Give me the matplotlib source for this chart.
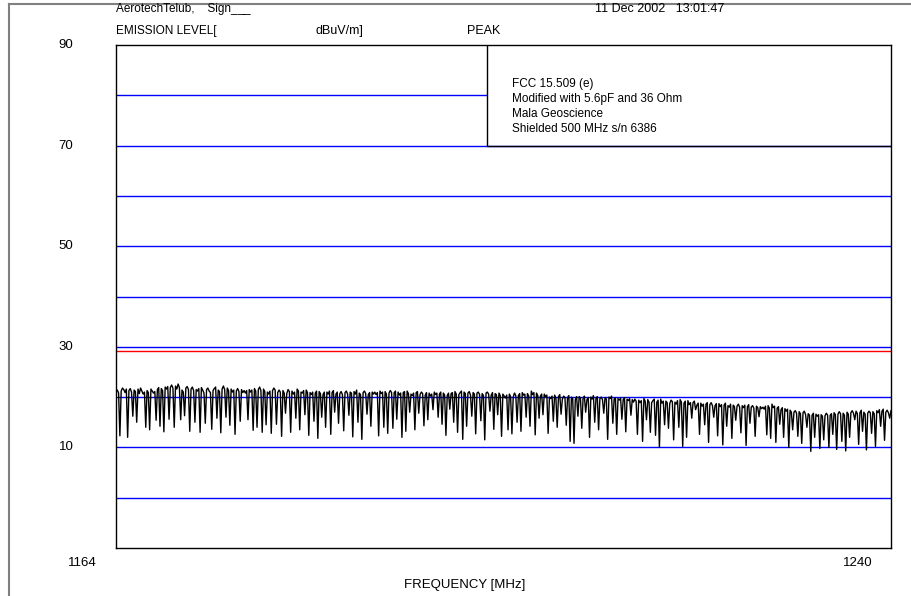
import numpy as np
import matplotlib
matplotlib.use("Agg")
import matplotlib.pyplot as plt
from matplotlib.lines import Line2D

plt.rcParams['font.family'] = ['Liberation Sans', 'DejaVu Sans']

# sweep settings
f_start, f_stop = 1164, 1240
y_min, y_max = -10, 90
grid_levels = [0, 10, 20, 30, 40, 50, 60, 70]
limit_level = 29.1
box_left_freq = 1200.4
ytick_labels = [10, 30, 50, 70, 90]
xtick_labels = [1164, 1240]

notes = ["FCC 15.509 (e)",
         "Modified with 5.6pF and 36 Ohm",
         "Mala Geoscience",
         "Shielded 500 MHz s/n 6386"]

# peak trace, dBuV/m, one value per sweep point (six blocks across the span)
peak_a = [21.0, 21.4, 20.8, 12.3, 21.2, 21.8, 21.5, 20.9, 21.6, 12.0, 21.3, 21.7, 21.0, 16.2,
          21.4, 21.1, 15.0, 21.6, 20.7, 21.8, 21.2, 20.6, 21.0, 14.0, 21.3, 20.9, 13.5, 21.6,
          21.2, 20.8, 21.1, 15.4, 21.5, 21.9, 14.2, 21.7, 21.3, 13.1, 22.0, 21.6, 22.1, 15.6,
          21.9, 22.4, 21.8, 14.0, 22.2, 21.6, 22.6, 21.9, 15.5, 21.4, 21.0, 16.3, 21.8, 22.1,
          21.5, 13.2, 21.6, 22.0, 21.3, 15.0, 21.5, 21.2, 21.7, 13.0, 21.9, 21.4, 20.8, 14.8,
          21.5, 21.8, 21.2, 20.9, 13.6, 21.3, 21.7, 22.0, 15.8, 21.4, 21.1, 12.9, 21.6, 22.2,
          21.5, 16.0, 21.8, 21.3, 14.4, 21.6, 21.0, 21.4, 12.6, 21.2, 21.7, 21.1, 15.2, 21.5,
          20.9, 21.3]
peak_b = [20.8, 21.3, 15.5, 21.5, 21.0, 21.4, 13.4, 21.7, 21.2, 14.0, 21.5, 22.0, 21.3, 13.0,
          21.6, 21.1, 14.5, 21.0, 20.6, 21.2, 12.8, 21.3, 21.8, 21.4, 14.6, 20.9, 21.4, 21.0,
          12.2, 21.3, 20.8, 16.8, 20.7, 21.5, 21.1, 13.0, 21.2, 20.6, 21.0, 15.8, 21.6, 21.2,
          13.5, 21.0, 20.8, 21.3, 16.5, 21.4, 20.9, 12.4, 20.9, 20.5, 21.0, 15.2, 20.8, 21.2,
          11.8, 21.1, 20.7, 16.0, 20.5, 21.0, 14.0, 21.0, 20.6, 21.2, 12.6, 20.9, 21.3, 17.0,
          20.6, 21.0, 14.8, 20.7, 21.1, 20.5, 13.3, 20.9, 21.2, 20.6, 16.4, 21.0, 20.8, 12.1,
          21.1, 20.6, 21.4, 15.0, 20.8, 20.5, 11.6, 20.9, 21.2, 20.7, 16.6, 20.5, 20.9, 14.2,
          21.0, 20.6]
peak_c = [21.0, 20.5, 20.9, 12.3, 21.2, 20.7, 21.0, 14.0, 21.1, 20.6, 12.8, 20.8, 21.3, 20.9,
          13.8, 20.9, 21.2, 15.6, 21.0, 20.4, 20.8, 12.0, 20.9, 21.1, 13.2, 21.2, 20.7, 17.0,
          20.6, 20.3, 20.8, 13.5, 20.9, 21.1, 16.8, 20.5, 21.0, 20.7, 14.3, 20.4, 20.9, 15.5,
          20.8, 20.2, 20.6, 17.5, 21.0, 20.5, 20.8, 16.0, 20.6, 21.0, 14.6, 20.8, 20.4, 12.4,
          20.3, 20.8, 17.6, 20.7, 20.9, 15.0, 21.1, 20.6, 13.0, 20.5, 20.9, 21.2, 11.6, 21.0,
          20.7, 14.2, 20.8, 21.1, 20.4, 16.2, 20.9, 20.6, 12.7, 20.8, 21.0, 20.5, 15.3, 20.7,
          20.3, 11.5, 20.8, 21.0, 20.6, 17.2, 20.4, 20.9, 13.6, 20.7, 20.5, 16.5, 20.8, 20.3,
          12.2, 20.6]
peak_d = [20.2, 19.8, 20.4, 13.5, 20.6, 20.1, 12.7, 20.0, 20.8, 20.3, 15.0, 20.3, 20.7, 13.2,
          20.9, 20.4, 20.6, 16.0, 20.7, 20.2, 14.2, 21.2, 20.5, 20.9, 12.5, 20.8, 20.3, 15.8,
          20.2, 20.6, 16.5, 20.6, 20.1, 20.4, 12.8, 20.0, 19.7, 20.2, 15.2, 20.4, 19.8, 14.0,
          20.1, 20.5, 16.6, 19.6, 20.2, 19.9, 14.4, 19.9, 20.3, 11.2, 20.0, 19.7, 10.8, 19.5,
          20.1, 16.2, 20.1, 19.8, 13.8, 19.8, 20.2, 17.0, 19.5, 19.9, 12.0, 20.0, 19.6, 20.3,
          15.0, 19.8, 20.1, 13.5, 19.7, 20.0, 19.5, 16.8, 19.9, 19.6, 11.6, 20.0, 19.7, 20.2,
          14.8, 19.6, 19.9, 12.6, 19.7, 19.4, 19.8, 15.6, 19.5, 19.9, 13.1, 19.6, 19.3, 19.7,
          16.4, 19.5]
peak_e = [19.0, 19.6, 19.2, 12.6, 19.4, 18.9, 19.3, 11.2, 19.7, 19.2, 15.5, 19.5, 19.0, 13.0,
          18.9, 19.3, 19.6, 12.4, 19.0, 19.4, 10.0, 19.6, 18.8, 19.2, 14.5, 19.2, 18.9, 13.8,
          18.7, 19.4, 19.1, 11.5, 19.0, 18.6, 19.3, 14.0, 19.5, 19.0, 10.2, 18.8, 19.2, 12.0,
          19.3, 18.5, 18.9, 15.8, 18.9, 19.2, 17.5, 18.4, 18.8, 12.6, 18.8, 18.2, 18.6, 14.5,
          18.6, 18.9, 11.0, 18.5, 18.9, 18.3, 16.0, 18.3, 18.7, 12.3, 18.7, 18.1, 18.5, 10.5,
          18.4, 18.8, 14.2, 18.3, 18.0, 18.6, 11.8, 18.4, 18.1, 15.4, 18.2, 18.6, 18.0, 12.9,
          18.3, 17.9, 18.4, 10.4, 18.1, 18.5, 14.8, 18.0, 18.3, 17.8, 12.2, 18.2, 17.9, 16.1,
          18.1, 17.7]
peak_f = [18.0, 17.6, 18.2, 12.5, 18.3, 17.8, 11.8, 18.6, 17.9, 18.2, 11.0, 17.8, 18.1, 14.6,
          17.5, 17.9, 12.0, 17.7, 17.2, 17.6, 10.0, 17.4, 17.0, 13.5, 17.0, 17.3, 16.8, 12.2,
          17.1, 16.7, 10.8, 16.9, 17.2, 16.5, 14.0, 16.7, 16.4, 9.2, 16.4, 16.8, 12.0, 16.6,
          16.2, 16.5, 9.8, 16.5, 16.2, 11.5, 16.3, 16.8, 16.4, 10.0, 16.4, 16.7, 12.6, 16.9,
          16.5, 9.6, 16.6, 17.1, 16.7, 11.2, 16.8, 16.4, 9.3, 17.0, 16.6, 12.0, 16.9, 17.3,
          16.8, 15.5, 17.2, 16.7, 10.6, 16.9, 17.4, 13.2, 17.0, 16.6, 9.5, 16.8, 17.2, 16.9,
          12.8, 17.1, 16.7, 10.2, 17.3, 16.9, 17.5, 14.2, 17.2, 17.6, 11.4, 17.0, 17.4, 16.9,
          15.8, 17.3]

peak = np.array(peak_a + peak_b + peak_c + peak_d + peak_e + peak_f)
freq = np.linspace(f_start, f_stop, len(peak))

W, H = 911, 596
fig = plt.figure(figsize=(W / 100, H / 100), dpi=100)
ax = fig.add_axes([116 / W, 1 - 548 / H, (891 - 116) / W, (548 - 45) / H])
ax.set_xlim(f_start, f_stop)
ax.set_ylim(y_min, y_max)

blue = "#0000ff"
for lv in grid_levels:
    ax.axhline(lv, color=blue, lw=1.0, zorder=1)
ax.hlines(80, f_start, box_left_freq, color=blue, lw=1.0, zorder=1)
ax.axhline(limit_level, color="#ff0000", lw=1.0, zorder=2)

ax.plot(freq, peak, color="black", lw=1.0, zorder=3)

# annotation box in the upper right corner
ax.plot([box_left_freq, box_left_freq, f_stop], [y_max, 70, 70], color="black", lw=1.0, zorder=4)
for i, s in enumerate(notes):
    fig.text(512 / W, 1 - (84 + i * 15) / H, s, fontsize=8.5, va="center", ha="left")

ax.set_xticks([])
ax.set_yticks([])
for sp in ax.spines.values():
    sp.set_linewidth(1.0)

for v in ytick_labels:
    y_px = 548 - (v - y_min) / (y_max - y_min) * 503
    fig.text(66 / W, 1 - y_px / H, str(v), fontsize=9.5, ha="center", va="center")

fig.text(97 / W, 1 - 563 / H, str(xtick_labels[0]), fontsize=9.5, ha="right", va="center")
fig.text(873 / W, 1 - 563 / H, str(xtick_labels[1]), fontsize=9.5, ha="right", va="center")
fig.text(465 / W, 1 - 585 / H, "FREQUENCY [MHz]", fontsize=9.5, ha="center", va="center")

# header lines
fig.text(116 / W, 1 - 9 / H, "AerotechTelub,    Sign___", fontsize=8.5, ha="left", va="center")
fig.text(595 / W, 1 - 9 / H, "11 Dec 2002   13:01:47", fontsize=9, ha="left", va="center")
fig.text(116 / W, 1 - 31 / H, "EMISSION LEVEL[", fontsize=8.5, ha="left", va="center")
fig.text(316 / W, 1 - 31 / H, "dBuV/m]", fontsize=9, ha="left", va="center")
fig.text(467 / W, 1 - 31 / H, "PEAK", fontsize=9, ha="left", va="center")

# page frame
fig.add_artist(Line2D([9 / W, 9 / W], [0, 1 - 4 / H], color="#808080", lw=1.5))
fig.add_artist(Line2D([9 / W, 1], [1 - 4 / H, 1 - 4 / H], color="#808080", lw=1.5))

fig.savefig("out.png", dpi=100)
